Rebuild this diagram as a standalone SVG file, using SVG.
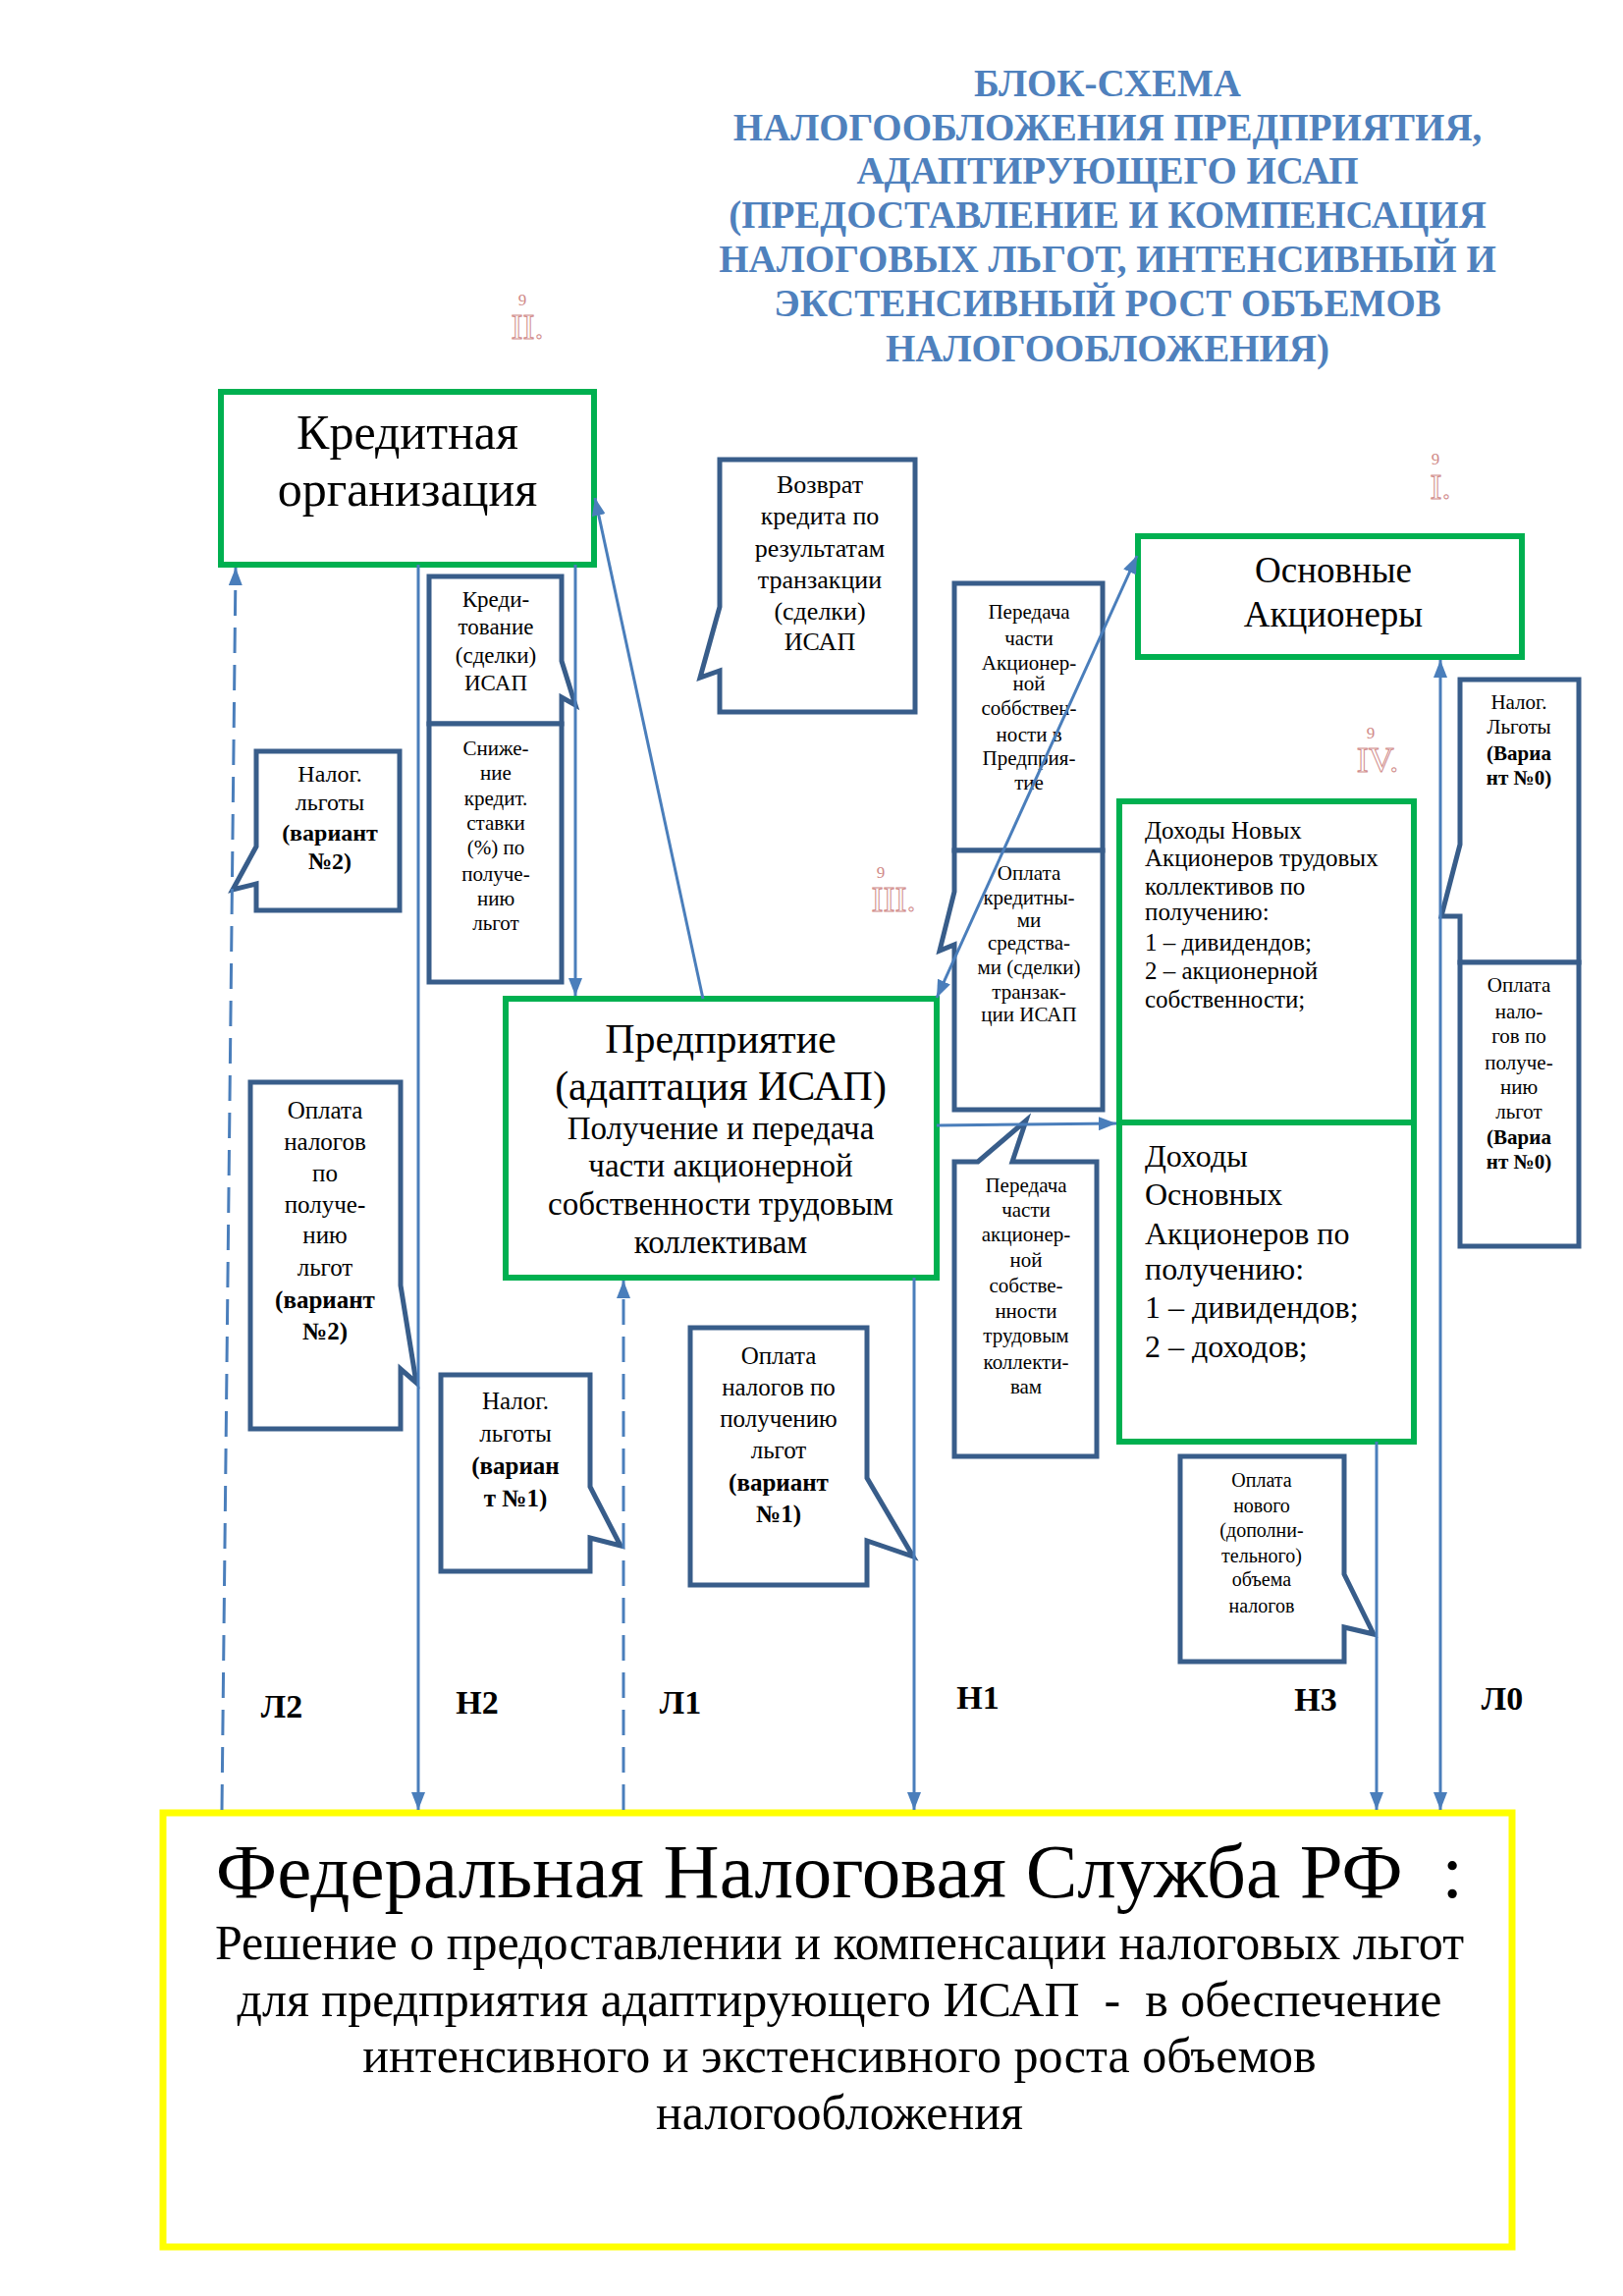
<svg xmlns="http://www.w3.org/2000/svg" width="1653" height="2338" viewBox="0 0 1653 2338">
<defs>
<style>
.t{font-family:"Liberation Serif","DejaVu Serif",serif;fill:#000;text-anchor:middle}
.l{text-anchor:start}
.b{font-weight:bold}
.pre{white-space:pre}
.box{fill:#fff;stroke:#385D8A;stroke-width:5;stroke-linejoin:miter}
.gbox{fill:#fff;stroke:#00B050;stroke-width:6}
.ybox{fill:none;stroke:#FFFF00;stroke-width:7}
.ln{stroke:#4A7EBB;stroke-width:3;fill:none}
.dash{stroke-dasharray:26 12}
.title{font-family:"Liberation Serif","DejaVu Serif",serif;font-weight:bold;fill:#4F81BD;text-anchor:middle;font-size:39px}
.rn{font-family:"Liberation Serif","DejaVu Serif",serif;fill:none;stroke:#D08A88;stroke-width:1;text-anchor:middle;font-size:36px}
.rs{font-family:"Liberation Serif","DejaVu Serif",serif;fill:#D08A88;text-anchor:middle;font-size:17px}
</style>
<marker id="ah" viewBox="0 0 18 14" refX="18" refY="7" markerWidth="18" markerHeight="14" markerUnits="userSpaceOnUse" orient="auto-start-reverse">
<path d="M0,0 L18,7 L0,14 Z" fill="#4A7EBB"/>
</marker>
</defs>
<rect width="1653" height="2338" fill="#fff"/>

<g id="title">
<text class="title" x="1128" y="98">БЛОК-СХЕМА</text>
<text class="title" x="1128" y="143">НАЛОГООБЛОЖЕНИЯ ПРЕДПРИЯТИЯ,</text>
<text class="title" x="1128" y="187">АДАПТИРУЮЩЕГО ИСАП</text>
<text class="title" x="1128" y="232">(ПРЕДОСТАВЛЕНИЕ И КОМПЕНСАЦИЯ</text>
<text class="title" x="1128" y="277">НАЛОГОВЫХ ЛЬГОТ, ИНТЕНСИВНЫЙ И</text>
<text class="title" x="1128" y="322">ЭКСТЕНСИВНЫЙ РОСТ ОБЪЕМОВ</text>
<text class="title" x="1128" y="368">НАЛОГООБЛОЖЕНИЯ)</text>
</g>

<g id="markers">
<text class="rs" x="532" y="311">9</text>
<text class="rn" x="537" y="345">II.</text>
<text class="rs" x="897" y="894">9</text>
<text class="rn" x="910" y="928">III.</text>
<text class="rs" x="1462" y="473">9</text>
<text class="rn" x="1467" y="508">I.</text>
<text class="rs" x="1396" y="752">9</text>
<text class="rn" x="1403" y="786">IV.</text>
</g>

<g id="credit-org">
<rect class="gbox" x="225" y="399" width="380" height="176"/>
<text class="t" x="415" y="457" font-size="50">Кредитная</text>
<text class="t" x="415" y="515" font-size="50">организация</text>
</g>

<g id="crediting">
<path class="box" d="M437,587 H572 V673 L586,718 L572,710 V737 H437 Z"/>
<text class="t" font-size="23"><tspan x="505" y="618">Креди-</tspan><tspan x="505" y="646">тование</tspan><tspan x="505" y="675">(сделки)</tspan><tspan x="505" y="703">ИСАП</tspan></text>
</g>

<g id="rate-reduction">
<rect class="box" x="437" y="737" width="135" height="263"/>
<text class="t" font-size="21"><tspan x="505" y="769">Сниже-</tspan><tspan x="505" y="794">ние</tspan><tspan x="505" y="820">кредит.</tspan><tspan x="505" y="845">ставки</tspan><tspan x="505" y="870">(%) по</tspan><tspan x="505" y="897">получе-</tspan><tspan x="505" y="922">нию</tspan><tspan x="505" y="947">льгот</tspan></text>
</g>

<g id="benefit-v2">
<path class="box" d="M261,765 V862 L237,906 L261,900 V927 H407 V765 Z"/>
<text class="t" font-size="24"><tspan x="336" y="796">Налог.</tspan><tspan x="336" y="825">льготы</tspan><tspan class="b" x="336" y="856">(вариант</tspan><tspan class="b" x="336" y="885">№2)</tspan></text>
</g>

<g id="tax-v2">
<path class="box" d="M255,1102 H408 V1309 L424,1408 L408,1394 V1455 H255 Z"/>
<text class="t" font-size="25"><tspan x="331" y="1139">Оплата</tspan><tspan x="331" y="1171">налогов</tspan><tspan x="331" y="1203">по</tspan><tspan x="331" y="1235">получе-</tspan><tspan x="331" y="1266">нию</tspan><tspan x="331" y="1299">льгот</tspan><tspan class="b" x="331" y="1332">(вариант</tspan><tspan class="b" x="331" y="1364">№2)</tspan></text>
</g>

<g id="benefit-v1">
<path class="box" d="M449,1400 H601 V1514 L632,1574 L601,1566 V1600 H449 Z"/>
<text class="t" font-size="25"><tspan x="525" y="1435">Налог.</tspan><tspan x="525" y="1468">льготы</tspan><tspan class="b" x="525" y="1501">(вариан</tspan><tspan class="b" x="525" y="1534">т №1)</tspan></text>
</g>

<g id="tax-v1">
<path class="box" d="M703,1352 H883 V1505 L930,1585 L883,1569 V1614 H703 Z"/>
<text class="t" font-size="25"><tspan x="793" y="1389">Оплата</tspan><tspan x="793" y="1421">налогов по</tspan><tspan x="793" y="1453">получению</tspan><tspan x="793" y="1485">льгот</tspan><tspan class="b" x="793" y="1518">(вариант</tspan><tspan class="b" x="793" y="1550">№1)</tspan></text>
</g>

<g id="enterprise">
<rect class="gbox" x="515" y="1017" width="439" height="284"/>
<text class="t" font-size="42"><tspan x="734" y="1072">Предприятие</tspan><tspan x="734" y="1120">(адаптация ИСАП)</tspan></text>
<text class="t" font-size="33"><tspan x="734" y="1160">Получение и передача</tspan><tspan x="734" y="1198">части акционерной</tspan><tspan x="734" y="1237">собственности трудовым</tspan><tspan x="734" y="1276">коллективам</tspan></text>
</g>

<g id="loan-return">
<path class="box" d="M733,468 V618 L713,690 L733,683 V725 H932 V468 Z"/>
<text class="t" font-size="26"><tspan x="835" y="502">Возврат</tspan><tspan x="835" y="534">кредита по</tspan><tspan x="835" y="567">результатам</tspan><tspan x="835" y="599">транзакции</tspan><tspan x="835" y="631">(сделки)</tspan><tspan x="835" y="662">ИСАП</tspan></text>
</g>

<g id="share-transfer">
<rect class="box" x="972" y="594" width="151" height="272"/>
<text class="t" font-size="21"><tspan x="1048" y="630">Передача</tspan><tspan x="1048" y="657">части</tspan><tspan x="1048" y="682">Акционер-</tspan><tspan x="1048" y="703">ной</tspan><tspan x="1048" y="728">соббствен-</tspan><tspan x="1048" y="755">ности в</tspan><tspan x="1048" y="779">Предприя-</tspan><tspan x="1048" y="804">тие</tspan></text>
</g>

<g id="credit-payment">
<path class="box" d="M972,866 H1123 V1130 H972 V962 L957,968 L972,908 Z"/>
<text class="t" font-size="21"><tspan x="1048" y="896">Оплата</tspan><tspan x="1048" y="921">кредитны-</tspan><tspan x="1048" y="944">ми</tspan><tspan x="1048" y="967">средства-</tspan><tspan x="1048" y="992">ми (сделки)</tspan><tspan x="1048" y="1017">транзак-</tspan><tspan x="1048" y="1040">ции ИСАП</tspan></text>
</g>

<g id="collective-transfer">
<path class="box" d="M972,1183 H996 L1045,1141 L1031,1183 H1117 V1483 H972 Z"/>
<text class="t" font-size="21"><tspan x="1045" y="1214">Передача</tspan><tspan x="1045" y="1239">части</tspan><tspan x="1045" y="1264">акционер-</tspan><tspan x="1045" y="1290">ной</tspan><tspan x="1045" y="1316">собстве-</tspan><tspan x="1045" y="1342">нности</tspan><tspan x="1045" y="1367">трудовым</tspan><tspan x="1045" y="1394">коллекти-</tspan><tspan x="1045" y="1419">вам</tspan></text>
</g>

<g id="main-shareholders">
<rect class="gbox" x="1159" y="546" width="391" height="123"/>
<text class="t" font-size="37"><tspan x="1358" y="593">Основные</tspan><tspan x="1358" y="638">Акционеры</tspan></text>
</g>

<g id="new-shareholders-income">
<rect class="gbox" x="1140" y="816" width="300" height="327"/>
<text class="t l" font-size="25"><tspan x="1166" y="854">Доходы Новых</tspan><tspan x="1166" y="882">Акционеров трудовых</tspan><tspan x="1166" y="911">коллективов по</tspan><tspan x="1166" y="937">получению:</tspan><tspan x="1166" y="968">1 – дивидендов;</tspan><tspan x="1166" y="997">2 – акционерной</tspan><tspan x="1166" y="1026">собственности;</tspan></text>
</g>

<g id="main-shareholders-income">
<rect class="gbox" x="1140" y="1143" width="300" height="325"/>
<text class="t l" font-size="32"><tspan x="1166" y="1188">Доходы</tspan><tspan x="1166" y="1227">Основных</tspan><tspan x="1166" y="1267">Акционеров по</tspan><tspan x="1166" y="1303">получению:</tspan><tspan x="1166" y="1342">1 – дивидендов;</tspan><tspan x="1166" y="1382">2 – доходов;</tspan></text>
</g>

<g id="new-tax">
<path class="box" d="M1202,1483 H1369 V1603 L1399,1664 L1369,1657 V1692 H1202 Z"/>
<text class="t" font-size="20"><tspan x="1285" y="1514">Оплата</tspan><tspan x="1285" y="1540">нового</tspan><tspan x="1285" y="1565">(дополни-</tspan><tspan x="1285" y="1591">тельного)</tspan><tspan x="1285" y="1615">объема</tspan><tspan x="1285" y="1642">налогов</tspan></text>
</g>

<g id="benefit-v0">
<path class="box" d="M1487,692 H1608 V980 H1487 V933 L1468,933 L1487,860 Z"/>
<text class="t" font-size="21"><tspan x="1547" y="722">Налог.</tspan><tspan x="1547" y="747">Льготы</tspan><tspan class="b" x="1547" y="774">(Вариа</tspan><tspan class="b" x="1547" y="799">нт №0)</tspan></text>
</g>

<g id="tax-v0">
<rect class="box" x="1487" y="980" width="121" height="289"/>
<text class="t" font-size="21"><tspan x="1547" y="1010">Оплата</tspan><tspan x="1547" y="1037">нало-</tspan><tspan x="1547" y="1062">гов по</tspan><tspan x="1547" y="1089">получе-</tspan><tspan x="1547" y="1114">нию</tspan><tspan x="1547" y="1139">льгот</tspan><tspan class="b" x="1547" y="1165">(Вариа</tspan><tspan class="b" x="1547" y="1190">нт №0)</tspan></text>
</g>

<g id="fns">
<rect class="ybox" x="166" y="1846" width="1374" height="442"/>
<text class="t pre" font-size="79" x="855" y="1932" xml:space="preserve">Федеральная Налоговая Служба РФ  :</text>
<text class="t pre" font-size="50" xml:space="preserve"><tspan x="855" y="1995">Решение о предоставлении и компенсации налоговых льгот</tspan><tspan x="855" y="2053">для предприятия адаптирующего ИСАП  -  в обеспечение</tspan><tspan x="855" y="2110">интенсивного и экстенсивного роста объемов</tspan><tspan x="855" y="2168">налогообложения</tspan></text>
</g>

<g id="labels">
<text class="t b" font-size="34" x="287" y="1749">Л2</text>
<text class="t b" font-size="34" x="486" y="1745">Н2</text>
<text class="t b" font-size="34" x="693" y="1745">Л1</text>
<text class="t b" font-size="34" x="996" y="1740">Н1</text>
<text class="t b" font-size="34" x="1340" y="1742">Н3</text>
<text class="t b" font-size="34" x="1530" y="1741">Л0</text>
</g>

<g id="connectors">
<line class="ln dash" x1="226" y1="1843" x2="240" y2="578" marker-end="url(#ah)"/>
<line class="ln" x1="426" y1="575" x2="426" y2="1843" marker-end="url(#ah)"/>
<line class="ln" x1="586" y1="575" x2="586" y2="1014" marker-end="url(#ah)"/>
<line class="ln" x1="716" y1="1017" x2="606" y2="507" marker-end="url(#ah)"/>
<line class="ln dash" x1="635" y1="1843" x2="635" y2="1304" marker-end="url(#ah)"/>
<line class="ln" x1="931" y1="1301" x2="931" y2="1843" marker-end="url(#ah)"/>
<line class="ln" x1="954" y1="1016" x2="1158" y2="566" marker-start="url(#ah)" marker-end="url(#ah)"/>
<line class="ln" x1="954" y1="1146" x2="1137" y2="1144" marker-end="url(#ah)"/>
<line class="ln" x1="1402" y1="1468" x2="1402" y2="1843" marker-end="url(#ah)"/>
<line class="ln" x1="1467" y1="672" x2="1467" y2="1843" marker-start="url(#ah)" marker-end="url(#ah)"/>
</g>
</svg>
